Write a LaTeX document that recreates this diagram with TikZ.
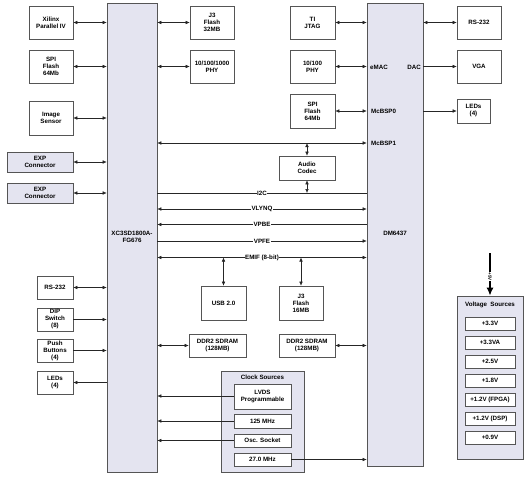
\documentclass[tikz,border=0pt]{standalone}
\usepackage{fontspec}
\setmainfont{Liberation Sans}
\usetikzlibrary{arrows.meta}
\definecolor{lav}{HTML}{E4E4F0}
\definecolor{bord}{HTML}{555555}
\tikzset{
  box/.style={draw=bord, line width=0.6pt, fill=white, inner sep=0pt, align=center, font=\fontsize{6.2}{7}\selectfont\bfseries},
  lbox/.style={box, fill=lav},
  conn/.style={line width=0.5pt, draw=black!85},
  tip/.style={-{Latex[length=4pt,width=3.5pt]}},
  both/.style={{Latex[length=4pt,width=3.5pt]}-{Latex[length=4pt,width=3.5pt]}},
  lab/.style={fill=white, inner sep=0.6pt, font=\fontsize{6.2}{7}\selectfont\bfseries},
  inlab/.style={inner sep=0pt, font=\fontsize{6.2}{7}\selectfont\bfseries},
}
\begin{document}
\begin{tikzpicture}[x=1pt,y=-1pt]
\useasboundingbox (0,0) rectangle (528,479);
% main chips
\node[lbox, minimum width=50, minimum height=469] (fpga) at (132,237.5) {};
\node[inlab, align=center] (fpgal) at (132,237) {XC3SD1800A-\\FG676};
\node[lbox, minimum width=56, minimum height=463] (dm) at (395,234.5) {};
\node[inlab] (dml) at (395,233) {DM6437};
% left column
\node[box, minimum width=44, minimum height=33] (xil) at (51,22.5) {Xilinx\\Parallel IV};
\node[box, minimum width=44, minimum height=33] (spil) at (51,66.5) {SPI\\Flash\\64Mb};
\node[box, minimum width=44, minimum height=34] (img) at (51,118) {Image\\Sensor};
\node[lbox, minimum width=66, minimum height=20] (exp1) at (40,162) {EXP\\Connector};
\node[lbox, minimum width=66, minimum height=20] (exp2) at (40,193) {EXP\\Connector};
\node[box, minimum width=36, minimum height=23] (rsl) at (55,287.5) {RS-232};
\node[box, minimum width=36, minimum height=23] (dip) at (55,319.5) {DIP\\Switch\\(8)};
\node[box, minimum width=36, minimum height=23] (push) at (55,350.5) {Push\\Buttons\\(4)};
\node[box, minimum width=36, minimum height=23] (ledl) at (55,382.5) {LEDs\\(4)};
% middle
\node[box, minimum width=44, minimum height=33] (j3a) at (212,22.5) {J3\\Flash\\32MB};
\node[box, minimum width=44, minimum height=33] (phy1) at (212,66.5) {10/100/1000\\PHY};
\node[box, minimum width=45, minimum height=33] (jtag) at (312.5,22.5) {TI\\JTAG};
\node[box, minimum width=45, minimum height=33] (phy2) at (312.5,66.5) {10/100\\PHY};
\node[box, minimum width=45, minimum height=34] (spir) at (312.5,111) {SPI\\Flash\\64Mb};
\node[box, minimum width=56, minimum height=24] (codec) at (307,168) {Audio\\Codec};
\node[box, minimum width=45, minimum height=34] (usb) at (223.5,303) {USB 2.0};
\node[box, minimum width=44, minimum height=34] (j3b) at (301,303) {J3\\Flash\\16MB};
\node[box, minimum width=57, minimum height=23] (ddrl) at (217.5,345.5) {DDR2 SDRAM\\(128MB)};
\node[box, minimum width=56, minimum height=23] (ddrr) at (307,345.5) {DDR2 SDRAM\\(128MB)};
% clock sources
\node[lbox, minimum width=83, minimum height=101] (clk) at (262.5,421.5) {};
\node[inlab] (clkt) at (262.5,377.5) {Clock Sources};
\node[box, minimum width=57, minimum height=25] (lvds) at (262.5,396.5) {LVDS\\Programmable};
\node[box, minimum width=57, minimum height=14] (c125) at (262.5,421) {125 MHz};
\node[box, minimum width=57, minimum height=13] (osc) at (262.5,440.5) {Osc. Socket};
\node[box, minimum width=57, minimum height=13] (c27) at (262.5,459.5) {27.0 MHz};
% right column
\node[box, minimum width=44, minimum height=33] (rsr) at (479,22.5) {RS-232};
\node[box, minimum width=44, minimum height=33] (vga) at (479,66.5) {VGA};
\node[box, minimum width=33, minimum height=24] (ledr) at (473.5,111) {LEDs\\(4)};
% voltage sources
\node[lbox, minimum width=66, minimum height=163] (vs) at (490,377.5) {};
\node[inlab] (vst) at (490,304.5) {Voltage\ \ Sources};
\node[box, minimum width=50, minimum height=13] (v1) at (490,323.5) {+3.3V};
\node[box, minimum width=50, minimum height=13] (v2) at (490,342.5) {+3.3VA};
\node[box, minimum width=50, minimum height=13] (v3) at (490,361.5) {+2.5V};
\node[box, minimum width=50, minimum height=13] (v4) at (490,380.5) {+1.8V};
\node[box, minimum width=50, minimum height=13] (v5) at (490,399.5) {+1.2V (FPGA)};
\node[box, minimum width=50, minimum height=13] (v6) at (490,418.5) {+1.2V (DSP)};
\node[box, minimum width=50, minimum height=13] (v7) at (490,437.5) {+0.9V};
\coordinate (pwr) at (490,253);
\draw[line width=1.6pt, -{Latex[length=8pt,width=7pt]}] (pwr) -- (vs.north) node[pos=0.55, fill=white, inner sep=0.5pt, rotate=-90, font=\fontsize{4.5}{5}\selectfont\bfseries] {+5V};
% DM inside labels
\node[inlab, anchor=west] (emac) at (370,67) {eMAC};
\node[inlab, anchor=west] (mcb0) at (371,111) {McBSP0};
\node[inlab, anchor=west] (mcb1) at (371,143) {McBSP1};
\node[inlab, anchor=east] (dac) at (421,67) {DAC};
% left connectors
\draw[conn, both] (xil.east) -- (fpga.west |- xil.east);
\draw[conn, both] (spil.east) -- (fpga.west |- spil.east);
\draw[conn, both] (img.east) -- (fpga.west |- img.east);
\draw[conn, both] (exp1.east) -- (fpga.west |- exp1.east);
\draw[conn, both] (exp2.east) -- (fpga.west |- exp2.east);
\draw[conn, both] (rsl.east) -- (fpga.west |- rsl.east);
\draw[conn, tip] (dip.east) -- (fpga.west |- dip.east);
\draw[conn, tip] (push.east) -- (fpga.west |- push.east);
\draw[conn, tip] (fpga.west |- ledl.east) -- (ledl.east);
\draw[conn, both] (fpga.east |- j3a.west) -- (j3a.west);
\draw[conn, both] (fpga.east |- phy1.west) -- (phy1.west);
\draw[conn, both] (fpga.east |- ddrl.west) -- (ddrl.west);
% DM connectors
\draw[conn, both] (jtag.east) -- (dm.west |- jtag.east);
\draw[conn, both] (phy2.east) -- (dm.west |- phy2.east);
\draw[conn, both] (spir.east) -- (dm.west |- spir.east);
\draw[conn, both] (ddrr.east) -- (dm.west |- ddrr.east);
\draw[conn, both] (dm.east |- rsr.west) -- (rsr.west);
\draw[conn, tip] (dm.east |- vga.west) -- (vga.west);
\draw[conn, tip] (dm.east |- ledr.west) -- (ledr.west);
% buses
\coordinate (ymcb) at (0,143);
\coordinate (yi2c) at (0,193);
\coordinate (yvly) at (0,209);
\coordinate (yvpbe) at (0,224.5);
\coordinate (yvpfe) at (0,241);
\coordinate (yemif) at (0,257.5);
\draw[conn, both] (fpga.east |- ymcb) -- (dm.west |- ymcb);
\draw[conn] (fpga.east |- yi2c) -- (dm.west |- yi2c) node[lab, pos=0.5] {I2C};
\draw[conn, both] (fpga.east |- yvly) -- (dm.west |- yvly) node[lab, pos=0.5] {VLYNQ};
\draw[conn, tip] (dm.west |- yvpbe) -- (fpga.east |- yvpbe) node[lab, pos=0.5] {VPBE};
\draw[conn, tip] (fpga.east |- yvpfe) -- (dm.west |- yvpfe) node[lab, pos=0.5] {VPFE};
\draw[conn, both] (fpga.east |- yemif) -- (dm.west |- yemif) node[lab, pos=0.5] {EMIF (8-bit)};
\draw[conn, both] (codec.north) -- (codec.north |- ymcb);
\draw[conn, both] (codec.south) -- (codec.south |- yi2c);
\draw[conn, both] (usb.north |- yemif) -- (usb.north);
\draw[conn, both] (j3b.north |- yemif) -- (j3b.north);
% clocks
\coordinate (ylvds) at (0,396);
\draw[conn, tip] (lvds.west |- ylvds) -- (fpga.east |- ylvds);
\draw[conn, tip] (c125.west) -- (fpga.east |- c125.west);
\draw[conn, tip] (osc.west) -- (fpga.east |- osc.west);
\draw[conn, tip] (c27.east) -- (dm.west |- c27.east);
\end{tikzpicture}
\end{document}
